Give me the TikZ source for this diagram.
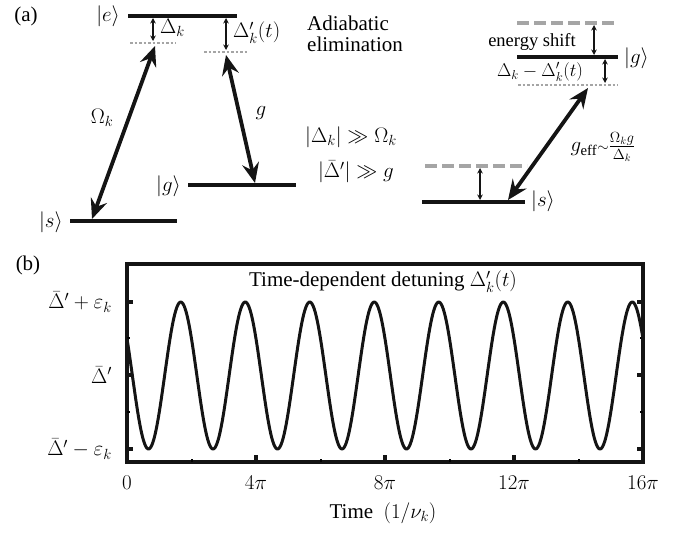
\documentclass[tikz,border=0pt]{standalone}
\usepackage{fix-cm}
\usepackage{amsmath}
\usepackage{fontspec}
\setmainfont{Liberation Serif}
\usetikzlibrary{arrows.meta}
\definecolor{mydark}{RGB}{20,20,20}
\definecolor{mygray}{RGB}{165,165,165}
\tikzset{
  level/.style={line width=4pt, color=mydark},
  shifted/.style={line width=4pt, color=mygray, dash pattern=on 12pt off 5pt},
  virtual/.style={line width=2pt, color=mygray, dash pattern=on 2.5pt off 2pt},
  coupling/.style={{Stealth[length=20pt,width=17pt,inset=7pt]}-{Stealth[length=20pt,width=17pt,inset=7pt]}, line width=3.8pt, color=mydark},
  gap/.style={{Stealth[length=5.5pt,width=5.5pt]}-{Stealth[length=5.5pt,width=5.5pt]}, line width=1.2pt, color=mydark},
  lbl/.style={font=\fontsize{21}{25}\selectfont, inner sep=0pt},
  smalllbl/.style={font=\fontsize{18.5}{22}\selectfont, inner sep=0pt},
  frame/.style={line width=4pt, color=mydark},
  curve/.style={line width=3pt, color=mydark, line join=round}
}

\begin{document}
\begin{tikzpicture}[x=1pt, y=-1pt]
  \useasboundingbox (0,0) rectangle (674,533);

  % Panel labels
  \node[lbl] (tag-a) at (26,16) {(a)};
  \node[lbl] (tag-b) at (28,265) {(b)};

  % Lambda system (left)
  \coordinate (e-l) at (128,16);  \coordinate (e-r) at (237,16);
  \coordinate (s-l) at (70,221);  \coordinate (s-r) at (177,221);
  \coordinate (g-l) at (188,185); \coordinate (g-r) at (296,185);
  \draw[level] (e-l) -- (e-r);
  \draw[level] (s-l) -- (s-r);
  \draw[level] (g-l) -- (g-r);
  \node[lbl, anchor=east] (e-lbl) at (120,16) {$|e\rangle$};
  \node[lbl, anchor=east] (s-lbl) at (63,222) {$|s\rangle$};
  \node[lbl, anchor=east] (g-lbl) at (181,186) {$|g\rangle$};

  % Virtual levels and detunings
  \coordinate (v1-l) at (130,43); \coordinate (v1-r) at (176,43);
  \coordinate (v2-l) at (204,52); \coordinate (v2-r) at (247,52);
  \draw[virtual] (v1-l) -- (v1-r);
  \draw[virtual] (v2-l) -- (v2-r);
  \coordinate (d1-top) at (153,18); \coordinate (d1-bot) at (153,41);
  \coordinate (d2-top) at (226,18); \coordinate (d2-bot) at (226,50);
  \draw[gap] (d1-top) -- (d1-bot);
  \draw[gap] (d2-top) -- (d2-bot);
  \node[lbl, anchor=west] (delta) at (160,28) {$\Delta_k$};
  \node[lbl, anchor=west] (deltap) at (233,33) {$\Delta'_k(t)$};

  % Couplings
  \coordinate (om-top) at (155,46); \coordinate (om-bot) at (92,219);
  \coordinate (gc-top) at (226,55); \coordinate (gc-bot) at (255,183);
  \draw[coupling] (om-bot) -- (om-top);
  \draw[coupling] (gc-top) -- (gc-bot);
  \node[lbl] (omega) at (102,118) {$\Omega_k$};
  \node[lbl] (gcoup) at (261,113) {$g$};

  % Conditions
  \node[lbl, anchor=west] (adia) at (307,23) {Adiabatic};
  \node[lbl, anchor=west] (elim) at (307,44) {elimination};
  \node[lbl] (cond1) at (351,137) {$|\Delta_k| \gg \Omega_k$};
  \node[lbl] (cond2) at (356,172) {$|\bar{\Delta}{}'| \gg g$};

  % Effective two-level system (right)
  \coordinate (gs-l) at (517,23);  \coordinate (gs-r) at (618,23);
  \coordinate (gg-l) at (517,57);  \coordinate (gg-r) at (618,57);
  \coordinate (gv-l) at (518,85);  \coordinate (gv-r) at (618,85);
  \coordinate (ss-l) at (425,166); \coordinate (ss-r) at (527,166);
  \coordinate (sg-l) at (422,202); \coordinate (sg-r) at (525,202);
  \draw[shifted] (gs-l) -- (gs-r);
  \draw[level] (gg-l) -- (gg-r);
  \draw[virtual] (gv-l) -- (gv-r);
  \draw[shifted] (ss-l) -- (ss-r);
  \draw[level] (sg-l) -- (sg-r);
  \coordinate (sh1-top) at (594,25); \coordinate (sh1-bot) at (594,55);
  \coordinate (sh2-top) at (605,59); \coordinate (sh2-bot) at (605,83);
  \coordinate (sh3-top) at (480,168); \coordinate (sh3-bot) at (480,200);
  \draw[gap] (sh1-top) -- (sh1-bot);
  \draw[gap] (sh2-top) -- (sh2-bot);
  \draw[gap] (sh3-top) -- (sh3-bot);
  \node[smalllbl] (eshift) at (532,42) {energy shift};
  \node[smalllbl] (ddiff) at (540,72) {$\Delta_k - \Delta'_k(t)$};
  \node[lbl, anchor=west] (gg-lbl) at (624,58) {$|g\rangle$};
  \node[lbl, anchor=west] (sg-lbl) at (531,201) {$|s\rangle$};
  \coordinate (ge-top) at (588,88); \coordinate (ge-bot) at (508,200);
  \draw[coupling] (ge-bot) -- (ge-top);
  \node[lbl] (geff) at (603,147) {$g_{\mathrm{eff}}{\scriptstyle\sim}\frac{\Omega_k g}{\Delta_k}$};

  % Panel (b): time-dependent detuning
  \coordinate (box-nw) at (127,264); \coordinate (box-se) at (643,462);
  \draw[frame] (box-nw) rectangle (box-se);
  \foreach \yy in {302,375,449} {
    \draw[frame] (127,\yy) -- ++(6,0);
    \draw[frame] (643,\yy) -- ++(-6,0);
  }
  \foreach \yy in {338,412} {
    \draw[line width=2pt] (127,\yy) -- ++(3,0);
    \draw[line width=2pt] (643,\yy) -- ++(-3,0);
  }
  \foreach \xx in {256,385,514} \draw[frame] (\xx,462) -- ++(0,-7);
  \foreach \xx in {191.5,320.5,449.5,578.5} \draw[line width=2pt] (\xx,462) -- ++(0,-3);
  \draw[curve] plot[domain=0:516, samples=500] ({127+\x},{375.5-73.5*cos(\x*5.5814+60)});

  \node[lbl] (title) at (383,282) {Time-dependent detuning $\Delta'_k(t)$};
  \node[lbl, anchor=east] (ytop) at (112,302) {$\bar{\Delta}{}'+\varepsilon_k$};
  \node[lbl, anchor=east] (ymid) at (112,375) {$\bar{\Delta}{}'$};
  \node[lbl, anchor=east] (ybot) at (112,449) {$\bar{\Delta}{}'-\varepsilon_k$};
  \foreach \xx/\tt in {127/0,256/4\pi,385/8\pi,514/12\pi,643/16\pi}
    \node[lbl] at (\xx,483) {$\tt$};
  \node[lbl] (xlabel) at (383,513) {Time\ \ $(1/\nu_k)$};
\end{tikzpicture}
\end{document}
